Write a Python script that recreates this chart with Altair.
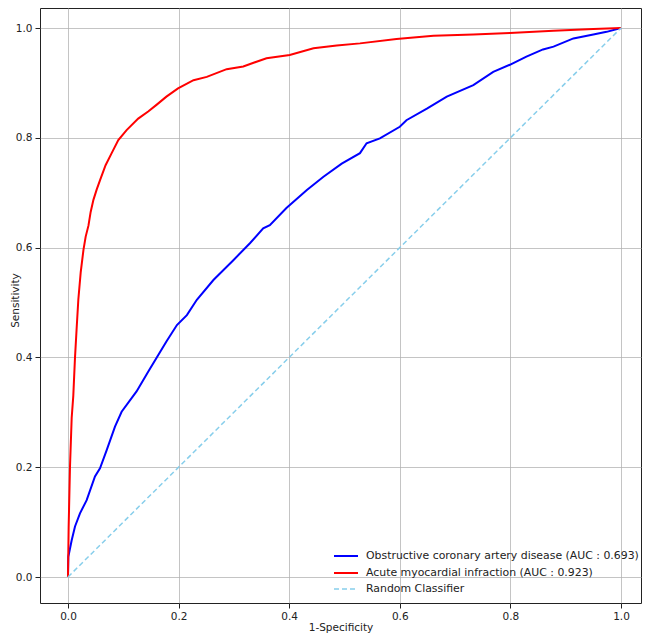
import altair as alt
import pandas as pd

# ---- data ----
ami_fpr = [0, 0.0012, 0.0036, 0.0067, 0.0096, 0.0127, 0.0155, 0.0187, 0.023, 0.028, 0.032, 0.037,
           0.041, 0.046, 0.052, 0.058, 0.068, 0.079, 0.091, 0.106, 0.127, 0.145, 0.160, 0.178,
           0.199, 0.227, 0.251, 0.287, 0.317, 0.359, 0.401, 0.444, 0.486, 0.528, 0.594, 0.661,
           0.733, 0.799, 0.878, 0.950, 1.0]
ami_tpr = [0, 0.09, 0.20, 0.29, 0.33, 0.40, 0.45, 0.505, 0.555, 0.596, 0.620, 0.640,
           0.665, 0.687, 0.706, 0.723, 0.750, 0.772, 0.796, 0.814, 0.835, 0.848, 0.860, 0.875,
           0.890, 0.905, 0.911, 0.925, 0.930, 0.945, 0.951, 0.963, 0.968, 0.972, 0.980, 0.986,
           0.988, 0.991, 0.995, 0.998, 1.0]

ocad_fpr = [0, 0.0006, 0.0067, 0.0127, 0.0217, 0.0338, 0.0488, 0.0579, 0.070, 0.085, 0.097,
            0.124, 0.145, 0.163, 0.178, 0.197, 0.215, 0.233, 0.263, 0.299, 0.329, 0.353, 0.365,
            0.395, 0.432, 0.462, 0.495, 0.528, 0.540, 0.564, 0.600, 0.612, 0.649, 0.685, 0.733,
            0.769, 0.799, 0.829, 0.859, 0.878, 0.914, 0.950, 0.974, 1.0]
ocad_tpr = [0, 0.037, 0.067, 0.092, 0.116, 0.140, 0.183, 0.198, 0.231, 0.274, 0.301,
            0.338, 0.374, 0.404, 0.429, 0.459, 0.477, 0.505, 0.541, 0.577, 0.608, 0.635, 0.641,
            0.672, 0.705, 0.729, 0.753, 0.772, 0.790, 0.799, 0.820, 0.832, 0.853, 0.875, 0.896,
            0.920, 0.933, 0.948, 0.961, 0.966, 0.981, 0.988, 0.993, 1.0]

rand_fpr = [0.0, 1.0]
rand_tpr = [0.0, 1.0]

legend_labels = ["Obstructive coronary artery disease (AUC : 0.693)",
                 "Acute myocardial infraction (AUC : 0.923)",
                 "Random Classifier"]
legend_colors = ["#0000FF", "#FF0000", "#87CEEB"]

ticks = [0.0, 0.2, 0.4, 0.6, 0.8, 1.0]

FONT = "DejaVu Sans"
W, H = 601, 595
xdom = [-0.0506, -0.0506 + W / 553]
ydom = [(577 - 603) / 549, 1 + 20 / 549]

xs = alt.Scale(domain=xdom, nice=False, zero=False)
ys = alt.Scale(domain=ydom, nice=False, zero=False)

xax = alt.Axis(values=ticks, format=".1f", title="1-Specificity", grid=True,
               tickSize=5, labelPadding=3, titleY=24, titleBaseline="middle")
yax = alt.Axis(values=ticks, format=".1f", title="Sensitivity", grid=True,
               tickSize=5, labelPadding=3, titleX=-25, titleY=292, titleBaseline="middle")

def curve(fpr, tpr):
    return pd.DataFrame({"fpr": fpr, "tpr": tpr, "i": range(len(fpr))})

blue = alt.Chart(curve(ocad_fpr, ocad_tpr)).mark_line(
    color=legend_colors[0], strokeWidth=2).encode(
    x=alt.X("fpr:Q", scale=xs, axis=xax),
    y=alt.Y("tpr:Q", scale=ys, axis=yax),
    order="i:Q")

red = alt.Chart(curve(ami_fpr, ami_tpr)).mark_line(
    color=legend_colors[1], strokeWidth=2).encode(
    x="fpr:Q", y="tpr:Q", order="i:Q")

rand = alt.Chart(curve(rand_fpr, rand_tpr)).mark_line(
    color=legend_colors[2], strokeWidth=1.5, strokeDash=[5, 3]).encode(
    x="fpr:Q", y="tpr:Q", order="i:Q")

# ---- manual legend (matplotlib style, lower right, no frame) ----
one = pd.DataFrame({"a": [0]})
layers = [blue, red, rand]
rows_y = [548, 565, 581]
for lab, col, yy, dash in zip(legend_labels, legend_colors, rows_y,
                              [None, None, [5, 3]]):
    kw = dict(color=col, strokeWidth=2 if dash is None else 1.5)
    if dash is not None:
        kw["strokeDash"] = dash
    layers.append(alt.Chart(one).mark_rule(**kw).encode(
        x=alt.value(294), x2=alt.value(318), y=alt.value(yy)))
    layers.append(alt.Chart(pd.DataFrame({"t": [lab]})).mark_text(
        align="left", baseline="middle", font=FONT, fontSize=10.9, color="#222222").encode(
        x=alt.value(326), y=alt.value(yy), text="t:N"))

chart = alt.layer(*layers).properties(
    width=W, height=H,
    autosize=alt.AutoSizeParams(type="none"),
    padding={"left": 32, "top": 0, "right": 1, "bottom": 30},
).configure_view(
    stroke="#222222", strokeWidth=1
).configure_axis(
    labelFont=FONT, titleFont=FONT, labelFontSize=10.5, titleFontSize=10.5,
    titleFontWeight="normal", labelColor="#222222", titleColor="#222222",
    gridColor="#b0b0b0", gridOpacity=0.75, gridWidth=1,
    tickColor="#222222", domain=False
)

chart.save("out.html", embed_options={"renderer": "svg", "actions": False})
